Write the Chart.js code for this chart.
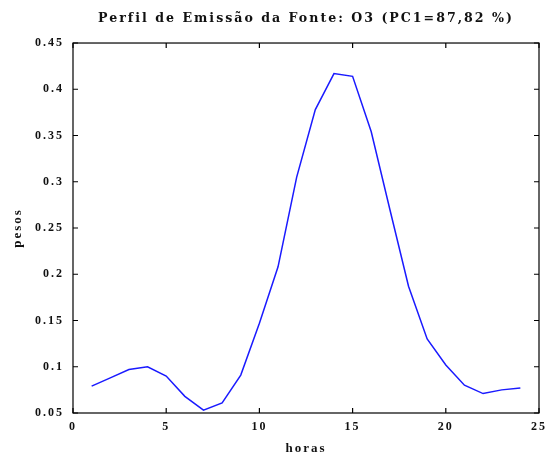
<!DOCTYPE html>
<html lang="pt">
<head>
  <meta charset="UTF-8" />
  <title>Perfil de Emissão da Fonte O3</title>
  <script src="https://cdn.jsdelivr.net/npm/chart.js"></script>
  <style>
    html, body { margin: 0; padding: 0; background: #fff; }
    #wrap { width: 552px; height: 455px; }
  </style>
</head>
<body>
  <div id="wrap"><canvas id="perfil" width="552" height="455"></canvas></div>
  <script>
    const titulo = 'Perfil de Emissão da Fonte: O3 (PC1=87,82 %)';
    const horas = [1, 2, 3, 4, 5, 6, 7, 8, 9, 10, 11, 12, 13, 14, 15, 16, 17, 18, 19, 20, 21, 22, 23, 24];
    const pesos = [0.079, 0.088, 0.097, 0.100, 0.090, 0.068, 0.053, 0.061, 0.091, 0.147, 0.208, 0.305,
                   0.378, 0.417, 0.414, 0.354, 0.270, 0.187, 0.130, 0.102, 0.080, 0.071, 0.075, 0.077];
    const xTickLabels = ['0', '5', '10', '15', '20', '25'];
    const yTickLabels = ['0.05', '0.1', '0.15', '0.2', '0.25', '0.3', '0.35', '0.4', '0.45'];

    // matlab-style box with inward ticks on all four sides
    const boxTicks = {
      id: 'boxTicks',
      beforeDraw(chart) {
        chart.ctx.letterSpacing = '2px';
      },
      afterDraw(chart) {
        const { ctx, chartArea: a, scales } = chart;
        const len = 5;
        ctx.save();
        ctx.strokeStyle = '#000';
        ctx.lineWidth = 1.2;
        ctx.strokeRect(a.left, a.top, a.right - a.left, a.bottom - a.top);
        ctx.beginPath();
        scales.x.ticks.forEach(t => {
          const px = scales.x.getPixelForValue(t.value);
          ctx.moveTo(px, a.bottom); ctx.lineTo(px, a.bottom - len);
          ctx.moveTo(px, a.top); ctx.lineTo(px, a.top + len);
        });
        scales.y.ticks.forEach(t => {
          const py = scales.y.getPixelForValue(t.value);
          ctx.moveTo(a.left, py); ctx.lineTo(a.left + len, py);
          ctx.moveTo(a.right, py); ctx.lineTo(a.right - len, py);
        });
        ctx.stroke();
        ctx.restore();
      }
    };

    const fonteEixo = { family: 'Liberation Serif', size: 12, weight: 'bold' };

    const ctx = document.getElementById('perfil').getContext('2d');
    new Chart(ctx, {
      type: 'line',
      data: {
        datasets: [{
          data: horas.map((h, i) => ({ x: h, y: pesos[i] })),
          borderColor: '#1a1aff',
          borderWidth: 1.5,
          pointRadius: 0,
          tension: 0,
          fill: false
        }]
      },
      options: {
        responsive: false,
        animation: false,
        layout: { padding: { left: 0, right: 7, top: 0, bottom: 0 } },
        plugins: {
          legend: { display: false },
          tooltip: { enabled: false },
          title: {
            display: true,
            fullSize: false,
            text: titulo,
            color: '#111',
            font: { family: 'DejaVu Serif', size: 12.6, weight: 'bold' },
            padding: { top: 11, bottom: 16.9 }
          }
        },
        scales: {
          x: {
            type: 'linear',
            min: 0,
            max: 25,
            afterFit: s => { s.height = 42; },
            grid: { display: false, drawTicks: false },
            border: { display: false },
            ticks: {
              stepSize: 5,
              padding: 7,
              maxRotation: 0,
              color: '#111',
              font: fonteEixo,
              callback: (v, i) => xTickLabels[i]
            },
            title: {
              display: true,
              text: 'horas',
              color: '#111',
              font: { family: 'Liberation Serif', size: 13, weight: 'bold' },
              padding: { top: 0, bottom: -1 }
            }
          },
          y: {
            min: 0.05,
            max: 0.45,
            afterFit: s => { s.width = 73; },
            grid: { display: false, drawTicks: false },
            border: { display: false },
            ticks: {
              stepSize: 0.05,
              padding: 9,
              color: '#111',
              font: fonteEixo,
              callback: (v, i) => yTickLabels[i]
            },
            title: {
              display: true,
              text: 'pesos',
              color: '#111',
              font: { family: 'Liberation Serif', size: 13, weight: 'bold' },
              padding: { top: 10, bottom: 0 }
            }
          }
        }
      },
      plugins: [boxTicks]
    });
  </script>
</body>
</html>
